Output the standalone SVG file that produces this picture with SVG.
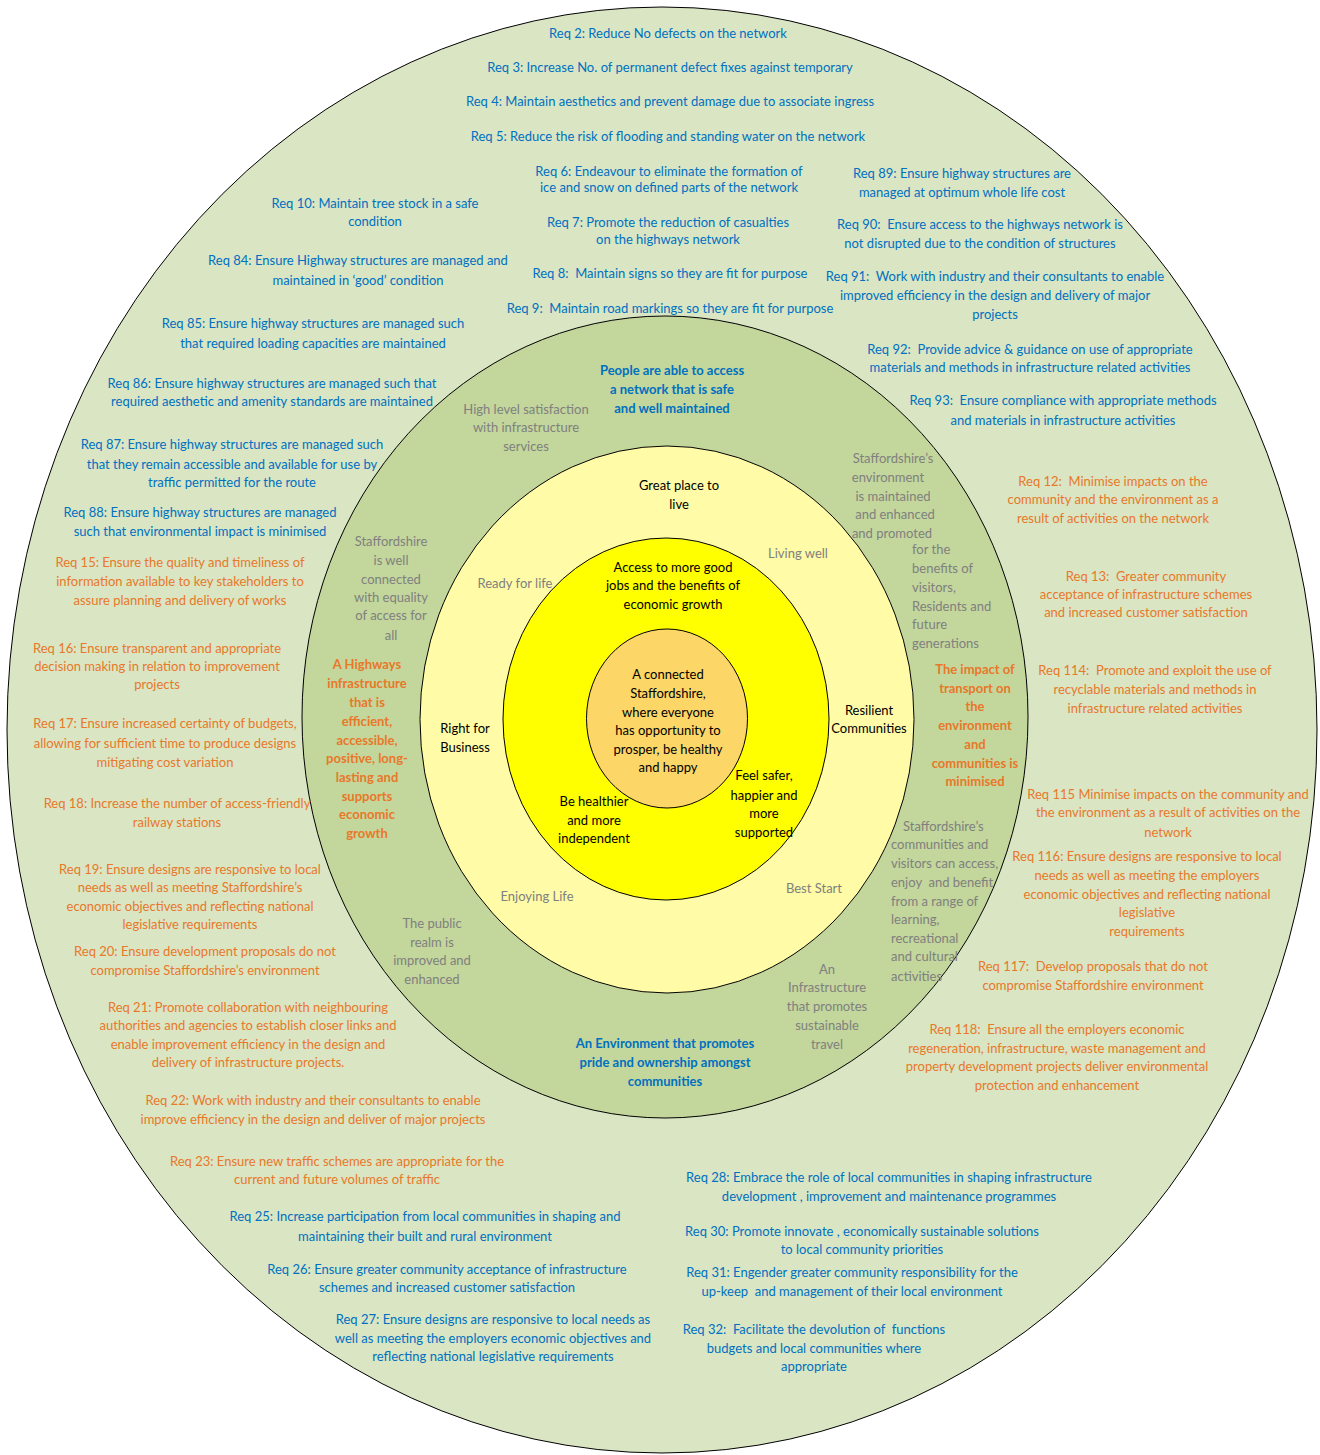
<svg xmlns="http://www.w3.org/2000/svg" width="1320" height="1455" viewBox="0 0 1320 1455">
<style>
text{font-family:Lato,"Liberation Sans",sans-serif;font-size:13px;text-anchor:middle;white-space:pre}
.b{fill:#0070C0}.o{fill:#E8782A}.g{fill:#808080}.k{fill:#000}
.bold{font-weight:bold}
.l{text-anchor:start}
ellipse{stroke:#000;stroke-width:1}
</style>
<rect width="1320" height="1455" fill="#fff"/>
<g id="ring-outer"><ellipse cx="662" cy="730" rx="655" ry="723" fill="#D9E5C3"/></g>
<g id="ring-outcomes"><ellipse cx="665" cy="717" rx="363" ry="401" fill="#C3D69B"/></g>
<g id="ring-priorities"><ellipse cx="667" cy="719.5" rx="247" ry="273.5" fill="#FFFBA6"/></g>
<g id="ring-aims"><ellipse cx="666" cy="719" rx="163" ry="181" fill="#FFFF00"/></g>
<g id="core"><ellipse cx="667" cy="718.5" rx="80.5" ry="89.5" fill="#FCD667"/>
<text class="k"><tspan x="668" y="679">A connected</tspan><tspan x="668" y="698">Staffordshire,</tspan><tspan x="668" y="717">where everyone</tspan><tspan x="668" y="735">has opportunity to</tspan><tspan x="668" y="754">prosper, be healthy</tspan><tspan x="668" y="772">and happy</tspan></text>
</g>
<g id="aims-text">
<text class="k"><tspan x="673" y="572">Access to more good</tspan><tspan x="673" y="590">jobs and the benefits of</tspan><tspan x="673" y="609">economic growth</tspan></text>
<text class="k"><tspan x="594" y="806">Be healthier</tspan><tspan x="594" y="825">and more</tspan><tspan x="594" y="843">independent</tspan></text>
<text class="k"><tspan x="764" y="780">Feel safer,</tspan><tspan x="764" y="800">happier and</tspan><tspan x="764" y="818">more</tspan><tspan x="764" y="837">supported</tspan></text>
</g>
<g id="priorities-text">
<text class="k"><tspan x="679" y="490">Great place to</tspan><tspan x="679" y="509">live</tspan></text>
<text class="g" x="798" y="558">Living well</text>
<text class="g" x="515" y="588">Ready for life</text>
<text class="k"><tspan x="465" y="733">Right for</tspan><tspan x="465" y="752">Business</tspan></text>
<text class="k"><tspan x="869" y="715">Resilient</tspan><tspan x="869" y="733">Communities</tspan></text>
<text class="g" x="537" y="901">Enjoying Life</text>
<text class="g" x="814" y="893">Best Start</text>
</g>
<g id="outcomes-text">
<text class="b bold"><tspan x="672" y="375">People are able to access</tspan><tspan x="672" y="394">a network that is safe</tspan><tspan x="672" y="413">and well maintained</tspan></text>
<text class="g"><tspan x="526" y="414">High level satisfaction</tspan><tspan x="526" y="432">with infrastructure</tspan><tspan x="526" y="451">services</tspan></text>
<text class="g"><tspan x="893" y="463">Staffordshire’s</tspan><tspan x="888" y="482">environment</tspan><tspan x="893" y="501">is maintained</tspan><tspan x="895" y="519">and enhanced</tspan><tspan x="892" y="538">and promoted</tspan></text>
<text class="g l"><tspan x="912" y="554">for the</tspan><tspan x="912" y="573">benefits of</tspan><tspan x="912" y="592">visitors,</tspan><tspan x="912" y="611">Residents and</tspan><tspan x="912" y="629">future</tspan><tspan x="912" y="648">generations</tspan></text>
<text class="g"><tspan x="391" y="546">Staffordshire</tspan><tspan x="391" y="565">is well</tspan><tspan x="391" y="584">connected</tspan><tspan x="391" y="602">with equality</tspan><tspan x="391" y="620">of access for</tspan><tspan x="391" y="640">all</tspan></text>
<text class="o bold"><tspan x="367" y="669">A Highways</tspan><tspan x="367" y="688">infrastructure</tspan><tspan x="367" y="707">that is</tspan><tspan x="367" y="726">efficient,</tspan><tspan x="367" y="745">accessible,</tspan><tspan x="367" y="763">positive, long-</tspan><tspan x="367" y="782">lasting and</tspan><tspan x="367" y="801">supports</tspan><tspan x="367" y="819">economic</tspan><tspan x="367" y="838">growth</tspan></text>
<text class="o bold"><tspan x="975" y="674">The impact of</tspan><tspan x="975" y="693">transport on</tspan><tspan x="975" y="711">the</tspan><tspan x="975" y="730">environment</tspan><tspan x="975" y="749">and</tspan><tspan x="975" y="768">communities is</tspan><tspan x="975" y="786">minimised</tspan></text>
<text class="g l"><tspan x="903" y="831">Staffordshire’s</tspan><tspan x="891" y="849">communities and</tspan><tspan x="891" y="868">visitors can access,</tspan><tspan x="891" y="887">enjoy  and benefit</tspan><tspan x="891" y="906">from a range of</tspan><tspan x="891" y="924">learning,</tspan><tspan x="891" y="943">recreational</tspan><tspan x="891" y="961">and cultural</tspan><tspan x="891" y="981">activities</tspan></text>
<text class="g"><tspan x="432" y="928">The public</tspan><tspan x="432" y="947">realm is</tspan><tspan x="432" y="965">improved and</tspan><tspan x="432" y="984">enhanced</tspan></text>
<text class="g"><tspan x="827" y="974">An</tspan><tspan x="827" y="992">Infrastructure</tspan><tspan x="827" y="1011">that promotes</tspan><tspan x="827" y="1030">sustainable</tspan><tspan x="827" y="1049">travel</tspan></text>
<text class="b bold"><tspan x="665" y="1048">An Environment that promotes</tspan><tspan x="665" y="1067">pride and ownership amongst</tspan><tspan x="665" y="1086">communities</tspan></text>
</g>
<g id="requirements">
<text class="b" x="668" y="38">Req 2: Reduce No defects on the network</text>
<text class="b" x="670" y="72">Req 3: Increase No. of permanent defect fixes against temporary</text>
<text class="b" x="670" y="106">Req 4: Maintain aesthetics and prevent damage due to associate ingress</text>
<text class="b" x="668" y="141">Req 5: Reduce the risk of flooding and standing water on the network</text>
<text class="b"><tspan x="669" y="176">Req 6: Endeavour to eliminate the formation of</tspan><tspan x="669" y="192">ice and snow on defined parts of the network</tspan></text>
<text class="b"><tspan x="668" y="227">Req 7: Promote the reduction of casualties</tspan><tspan x="668" y="244">on the highways network</tspan></text>
<text class="b" x="670" y="278">Req 8:  Maintain signs so they are fit for purpose</text>
<text class="b" x="670" y="313">Req 9:  Maintain road markings so they are fit for purpose</text>
<text class="b"><tspan x="375" y="208">Req 10: Maintain tree stock in a safe</tspan><tspan x="375" y="226">condition</tspan></text>
<text class="b"><tspan x="358" y="265">Req 84: Ensure Highway structures are managed and</tspan><tspan x="358" y="285">maintained in ‘good’ condition</tspan></text>
<text class="b"><tspan x="313" y="328">Req 85: Ensure highway structures are managed such</tspan><tspan x="313" y="348">that required loading capacities are maintained</tspan></text>
<text class="b"><tspan x="272" y="388">Req 86: Ensure highway structures are managed such that</tspan><tspan x="272" y="406">required aesthetic and amenity standards are maintained</tspan></text>
<text class="b"><tspan x="232" y="449">Req 87: Ensure highway structures are managed such</tspan><tspan x="232" y="469">that they remain accessible and available for use by</tspan><tspan x="232" y="487">traffic permitted for the route</tspan></text>
<text class="b"><tspan x="200" y="517">Req 88: Ensure highway structures are managed</tspan><tspan x="200" y="536">such that environmental impact is minimised</tspan></text>
<text class="o"><tspan x="180" y="567">Req 15: Ensure the quality and timeliness of</tspan><tspan x="180" y="586">information available to key stakeholders to</tspan><tspan x="180" y="605">assure planning and delivery of works</tspan></text>
<text class="o"><tspan x="157" y="653">Req 16: Ensure transparent and appropriate</tspan><tspan x="157" y="671">decision making in relation to improvement</tspan><tspan x="157" y="689">projects</tspan></text>
<text class="o"><tspan x="165" y="728">Req 17: Ensure increased certainty of budgets,</tspan><tspan x="165" y="748">allowing for sufficient time to produce designs</tspan><tspan x="165" y="767">mitigating cost variation</tspan></text>
<text class="o"><tspan x="177" y="808">Req 18: Increase the number of access-friendly</tspan><tspan x="177" y="827">railway stations</tspan></text>
<text class="o"><tspan x="190" y="874">Req 19: Ensure designs are responsive to local</tspan><tspan x="190" y="892">needs as well as meeting Staffordshire’s</tspan><tspan x="190" y="911">economic objectives and reflecting national</tspan><tspan x="190" y="929">legislative requirements</tspan></text>
<text class="o"><tspan x="205" y="956">Req 20: Ensure development proposals do not</tspan><tspan x="205" y="975">compromise Staffordshire’s environment</tspan></text>
<text class="o"><tspan x="248" y="1012">Req 21: Promote collaboration with neighbouring</tspan><tspan x="248" y="1030">authorities and agencies to establish closer links and</tspan><tspan x="248" y="1049">enable improvement efficiency in the design and</tspan><tspan x="248" y="1067">delivery of infrastructure projects.</tspan></text>
<text class="o"><tspan x="313" y="1105">Req 22: Work with industry and their consultants to enable</tspan><tspan x="313" y="1124">improve efficiency in the design and deliver of major projects</tspan></text>
<text class="o"><tspan x="337" y="1166">Req 23: Ensure new traffic schemes are appropriate for the</tspan><tspan x="337" y="1184">current and future volumes of traffic</tspan></text>
<text class="b"><tspan x="425" y="1221">Req 25: Increase participation from local communities in shaping and</tspan><tspan x="425" y="1241">maintaining their built and rural environment</tspan></text>
<text class="b"><tspan x="447" y="1274">Req 26: Ensure greater community acceptance of infrastructure</tspan><tspan x="447" y="1292">schemes and increased customer satisfaction</tspan></text>
<text class="b"><tspan x="493" y="1324">Req 27: Ensure designs are responsive to local needs as</tspan><tspan x="493" y="1343">well as meeting the employers economic objectives and</tspan><tspan x="493" y="1361">reflecting national legislative requirements</tspan></text>
<text class="b"><tspan x="889" y="1182">Req 28: Embrace the role of local communities in shaping infrastructure</tspan><tspan x="889" y="1201">development , improvement and maintenance programmes</tspan></text>
<text class="b"><tspan x="862" y="1236">Req 30: Promote innovate , economically sustainable solutions</tspan><tspan x="862" y="1254">to local community priorities</tspan></text>
<text class="b"><tspan x="852" y="1277">Req 31: Engender greater community responsibility for the</tspan><tspan x="852" y="1296">up-keep  and management of their local environment</tspan></text>
<text class="b"><tspan x="814" y="1334">Req 32:  Facilitate the devolution of  functions</tspan><tspan x="814" y="1353">budgets and local communities where</tspan><tspan x="814" y="1371">appropriate</tspan></text>
<text class="b"><tspan x="962" y="178">Req 89: Ensure highway structures are</tspan><tspan x="962" y="197">managed at optimum whole life cost</tspan></text>
<text class="b"><tspan x="980" y="229">Req 90:  Ensure access to the highways network is</tspan><tspan x="980" y="248">not disrupted due to the condition of structures</tspan></text>
<text class="b"><tspan x="995" y="281">Req 91:  Work with industry and their consultants to enable</tspan><tspan x="995" y="300">improved efficiency in the design and delivery of major</tspan><tspan x="995" y="319">projects</tspan></text>
<text class="b"><tspan x="1030" y="354">Req 92:  Provide advice &amp; guidance on use of appropriate</tspan><tspan x="1030" y="372">materials and methods in infrastructure related activities</tspan></text>
<text class="b"><tspan x="1063" y="405">Req 93:  Ensure compliance with appropriate methods</tspan><tspan x="1063" y="425">and materials in infrastructure activities</tspan></text>
<text class="o"><tspan x="1113" y="486">Req 12:  Minimise impacts on the</tspan><tspan x="1113" y="504">community and the environment as a</tspan><tspan x="1113" y="523">result of activities on the network</tspan></text>
<text class="o"><tspan x="1146" y="581">Req 13:  Greater community</tspan><tspan x="1146" y="599">acceptance of infrastructure schemes</tspan><tspan x="1146" y="617">and increased customer satisfaction</tspan></text>
<text class="o"><tspan x="1155" y="675">Req 114:  Promote and exploit the use of</tspan><tspan x="1155" y="694">recyclable materials and methods in</tspan><tspan x="1155" y="713">infrastructure related activities</tspan></text>
<text class="o"><tspan x="1168" y="799">Req 115 Minimise impacts on the community and</tspan><tspan x="1168" y="817">the environment as a result of activities on the</tspan><tspan x="1168" y="837">network</tspan></text>
<text class="o"><tspan x="1147" y="861">Req 116: Ensure designs are responsive to local</tspan><tspan x="1147" y="880">needs as well as meeting the employers</tspan><tspan x="1147" y="899">economic objectives and reflecting national</tspan><tspan x="1147" y="917">legislative</tspan><tspan x="1147" y="936">requirements</tspan></text>
<text class="o"><tspan x="1093" y="971">Req 117:  Develop proposals that do not</tspan><tspan x="1093" y="990">compromise Staffordshire environment</tspan></text>
<text class="o"><tspan x="1057" y="1034">Req 118:  Ensure all the employers economic</tspan><tspan x="1057" y="1053">regeneration, infrastructure, waste management and</tspan><tspan x="1057" y="1071">property development projects deliver environmental</tspan><tspan x="1057" y="1090">protection and enhancement</tspan></text>
</g>
</svg>
